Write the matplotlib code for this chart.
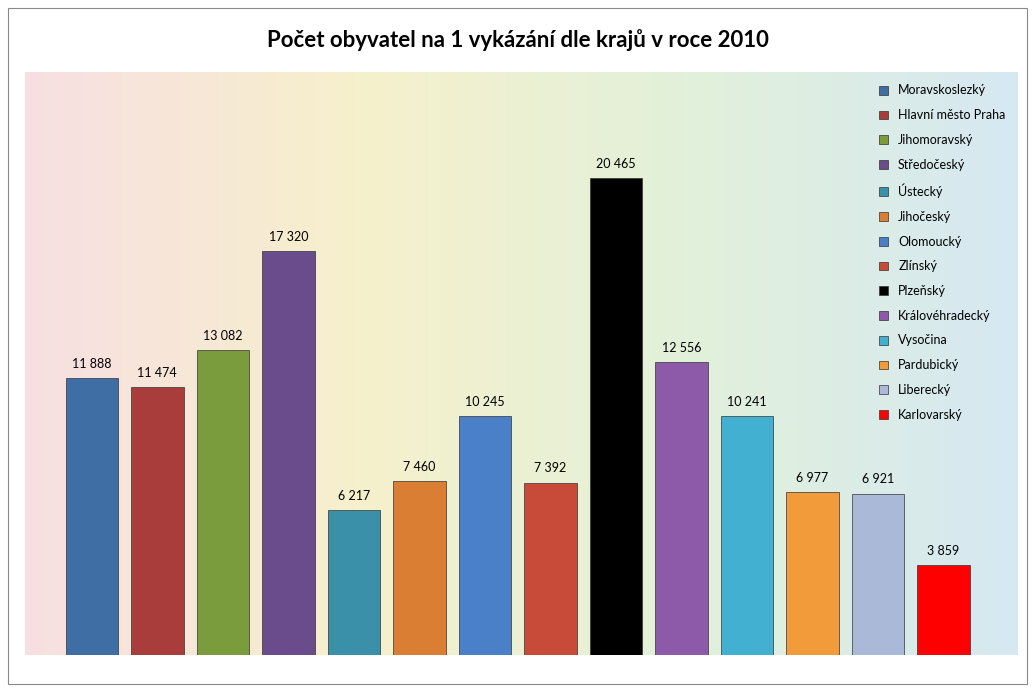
import numpy as np
import matplotlib.pyplot as plt
from matplotlib.colors import LinearSegmentedColormap
from matplotlib.patches import Rectangle

regions = ['Moravskoslezký', 'Hlavní město Praha', 'Jihomoravský', 'Středočeský', 'Ústecký',
           'Jihočeský', 'Olomoucký', 'Zlínský', 'Plzeňský', 'Královéhradecký', 'Vysočina',
           'Pardubický', 'Liberecký', 'Karlovarský']
values = [11888, 11474, 13082, 17320, 6217, 7460, 10245, 7392, 20465, 12556, 10241, 6977, 6921, 3859]
colors = ['#3f6ea5', '#a83d3b', '#7b9c3c', '#6a4c8c', '#3a90a8', '#d97e32', '#4a80c8', '#c84a38',
          '#000000', '#8c5aa8', '#42b0d0', '#f29b3a', '#aab9d8', '#ff0000']

plt.rcParams['font.family'] = 'Lato'
W, H = 1035, 692
fig = plt.figure(figsize=(W / 100, H / 100), dpi=100)

# outer border
fig.patches.append(Rectangle((8 / W, 8 / H), 1019 / W, 676 / H, transform=fig.transFigure,
                             fill=False, edgecolor='#888888', lw=0.8))

ax = fig.add_axes([25 / W, (H - 655) / H, (1018 - 25) / W, (655 - 72) / H])
x = np.arange(len(values))
xl = (-1.02, 14.14)
ax.set_xlim(*xl)
ax.set_ylim(0, 25000)

# background gradient
bg = LinearSegmentedColormap.from_list('bg', ['#f8dfe2', '#f6f0cc', '#e2f1da', '#d6e8f2'])
ax.imshow(np.linspace(0, 1, 256)[None, :], cmap=bg, aspect='auto',
          extent=(xl[0], xl[1], 0, 25000), zorder=0)

ax.bar(x, values, width=0.8, color=colors, edgecolor='#333333', linewidth=0.5, zorder=2)
for xi, v in zip(x, values):
    ax.text(xi, v + 350, f'{v:,}'.replace(',', ' '), ha='center', va='bottom', fontsize=9, zorder=3)

handles = [Rectangle((0, 0), 1, 1, facecolor=c, edgecolor='#333333', lw=0.5) for c in colors]
ax.legend(handles, regions, loc='upper right', frameon=False, fontsize=9,
          handlelength=0.7, handleheight=0.7, labelspacing=1.02, borderaxespad=0.6)

for s in ax.spines.values():
    s.set_visible(False)
ax.set_xticks([])
ax.set_yticks([])

fig.text(0.5, (H - 40) / H, 'Počet obyvatel na 1 vykázání dle krajů v roce 2010',
         ha='center', va='center', fontsize=16, fontweight='bold')

fig.savefig('out.png', dpi=100)
